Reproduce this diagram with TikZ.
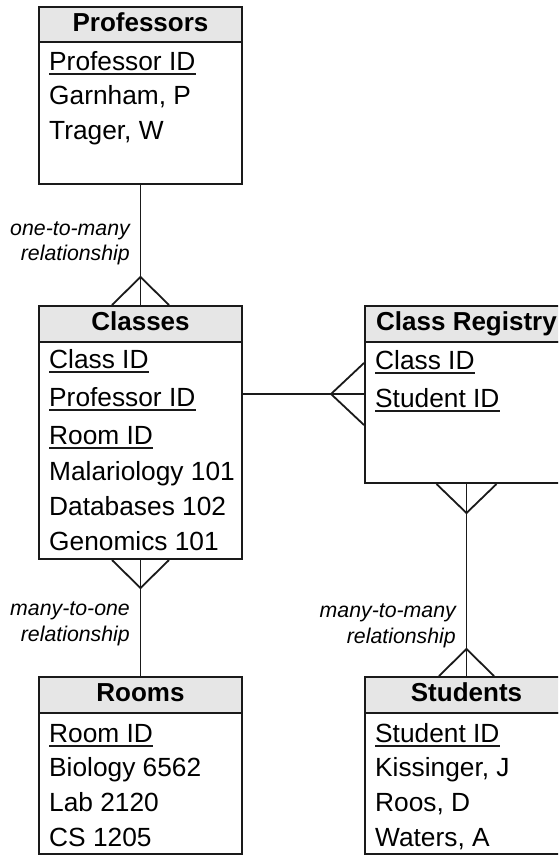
\documentclass[tikz,border=0pt]{standalone}
\usepackage{fontspec}
\setmainfont{Liberation Sans}
\usetikzlibrary{calc}
\definecolor{ink}{HTML}{1A1A1A}
\definecolor{hdrgray}{HTML}{E6E6E6}
\begin{document}
\begin{tikzpicture}[x=1pt,y=-1pt,
  hdr/.style={draw=ink, line width=2pt, fill=hdrgray, minimum width=203pt,
    minimum height=36pt, inner sep=0pt, text=black,
    font=\fontsize{26}{30}\selectfont\bfseries, text height=18pt, text depth=5pt},
  bodybox/.style={draw=ink, line width=2pt, fill=white, minimum width=203pt, inner sep=0pt},
  row/.style={anchor=base west, inner sep=0pt, text=black, font=\fontsize{26.3}{30}\selectfont},
  lbl/.style={anchor=base east, inner sep=0pt, text=black, font=\fontsize{21.3}{25}\selectfont\itshape},
  conn/.style={draw=ink, line width=1.8pt},
  ul/.style={draw=ink, line width=1.5pt}]
\clip (0,0) rectangle (558,855);
\fill[white] (0,0) rectangle (558,855);

\coordinate (ln) at (300,394);

% ---- Professors
\node[hdr, minimum height=35pt] (prof-h) at (140.5,24.5) {Professors};
\node[bodybox, minimum height=142pt] (prof-b) at (140.5,113) {};
\node[row] (p1) at (49,70) {Professor ID};
\node[row] (p2) at (49,104.5) {Garnham, P};
\node[row] (p3) at (49,139) {Trager, W};

% ---- Classes
\node[hdr] (cls-h) at (140.5,324) {Classes};
\node[bodybox, minimum height=217pt] (cls-b) at (140.5,450.5) {};
\node[row] (c1) at (49,368) {Class ID};
\node[row] (c2) at (49,406) {Professor ID};
\node[row] (c3) at (49,444) {Room ID};
\node[row] (c4) at (49,480) {Malariology 101};
\node[row] (c5) at (49,515) {Databases 102};
\node[row] (c6) at (49,550) {Genomics 101};

% ---- Class Registry
\node[hdr] (reg-h) at (466.5,324) {Class Registry};
\node[bodybox, minimum height=141pt] (reg-b) at (466.5,412.5) {};
\node[row] (r1) at (375,369) {Class ID};
\node[row] (r2) at (375,407) {Student ID};

% ---- Rooms
\node[hdr] (room-h) at (140.5,695) {Rooms};
\node[bodybox, minimum height=141pt] (room-b) at (140.5,783.5) {};
\node[row] (m1) at (49,742) {Room ID};
\node[row] (m2) at (49,776) {Biology 6562};
\node[row] (m3) at (49,811) {Lab 2120};
\node[row] (m4) at (49,846) {CS 1205};

% ---- Students
\node[hdr] (stu-h) at (466.5,695) {Students};
\node[bodybox, minimum height=141pt] (stu-b) at (466.5,783.5) {};
\node[row] (s1) at (375,742) {Student ID};
\node[row] (s2) at (375,776) {Kissinger, J};
\node[row] (s3) at (375,811) {Roos, D};
\node[row] (s4) at (375,846) {Waters, A};

% underlines for keys
\foreach \n in {p1,c1,c2,c3,r1,r2,m1,s1}
  \draw[ul] ([yshift=-4pt]\n.base west) -- ([yshift=-4pt]\n.base east);

% ---- connectors
% Professors -> Classes (one-to-many)
\draw[conn] (prof-b.south) -- (cls-h.north);
\draw[conn] ($(cls-h.north)+(-28.5,0)$) -- ($(cls-h.north)+(0,-28)$) -- ($(cls-h.north)+(28.5,0)$);
\node[lbl] (l1a) at (130,235) {one-to-many};
\node[lbl] (l1b) at (130,260) {relationship};

% Classes -> Class Registry
\draw[conn] (cls-b.east |- ln) -- (reg-b.west |- ln);
\draw[conn] ($(reg-b.west |- ln)+(0,-31)$) -- ($(reg-b.west |- ln)+(-33,0)$) -- ($(reg-b.west |- ln)+(0,31)$);

% Classes -> Rooms (many-to-one)
\draw[conn] (cls-b.south) -- (room-h.north);
\draw[conn] ($(cls-b.south)+(-28.5,0)$) -- ($(cls-b.south)+(0,28)$) -- ($(cls-b.south)+(28.5,0)$);
\node[lbl] (l2a) at (130,615) {many-to-one};
\node[lbl] (l2b) at (130,641) {relationship};

% Class Registry -> Students (many-to-many)
\draw[conn] (reg-b.south) -- (stu-h.north);
\draw[conn] ($(reg-b.south)+(-30,0)$) -- ($(reg-b.south)+(0,29)$) -- ($(reg-b.south)+(30,0)$);
\draw[conn] ($(stu-h.north)+(-27.5,0)$) -- ($(stu-h.north)+(0,-27)$) -- ($(stu-h.north)+(27.5,0)$);
\node[lbl] (l3a) at (456,617) {many-to-many};
\node[lbl] (l3b) at (456,643) {relationship};
\end{tikzpicture}
\end{document}
